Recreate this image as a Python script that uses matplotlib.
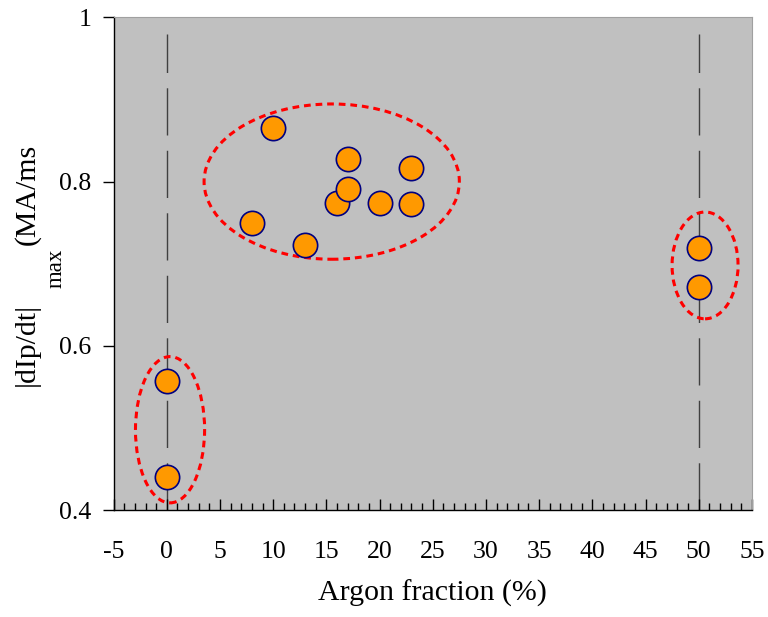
import matplotlib
matplotlib.use("Agg")
import matplotlib.pyplot as plt
from matplotlib.patches import Ellipse
from matplotlib.ticker import MultipleLocator

plt.rcParams['font.family'] = ['Liberation Serif', 'DejaVu Serif']
plt.rcParams['axes.unicode_minus'] = False

# Data
argon = [0, 0, 8, 10, 13, 16, 17, 17, 20, 23, 23, 50, 50]
dipdt = [0.557, 0.440, 0.750, 0.865, 0.723, 0.774, 0.791, 0.827, 0.774, 0.817, 0.773, 0.719, 0.672]

# Ellipses: (center x, center y, width, height)
groups_cx = [0.3, 15.5, 50.6]
groups_cy = [0.498, 0.800, 0.698]
groups_w = [6.5, 24.0, 6.2]
groups_h = [0.178, 0.189, 0.130]

vlines_x = [0, 50]

W, H = 768, 617
fig = plt.figure(figsize=(W / 100, H / 100), dpi=100)
ax = fig.add_axes([0.148, 0.173, 0.831, 0.799])
ax.set_facecolor('#C0C0C0')

for xv in vlines_x:
    ax.plot([xv, xv], [0.4, 0.98], color='#404040', lw=1.0,
            dashes=(34, 11), zorder=1)

for cx, cy, w, h in zip(groups_cx, groups_cy, groups_w, groups_h):
    ax.add_patch(Ellipse((cx, cy), w, h, fill=False, edgecolor='#FF0000',
                         lw=2.2, linestyle=(0, (2.2, 1.6)), zorder=3))

ax.plot(argon, dipdt, linestyle='none', marker='o', markersize=17.5,
        markerfacecolor='#FF9900', markeredgecolor='#000080',
        markeredgewidth=1.2, zorder=4)

ax.set_xlim(-5, 55)
ax.set_ylim(0.4, 1.0)
ax.xaxis.set_major_locator(MultipleLocator(5))
ax.xaxis.set_minor_locator(MultipleLocator(1))
ax.set_yticks([0.4, 0.6, 0.8, 1.0])
ax.set_yticklabels(['0.4', '0.6', '0.8', '1'])

ax.tick_params(axis='x', which='major', direction='in', length=8, width=1,
               labelsize=18.5, pad=22)
ax.tick_params(axis='x', which='minor', direction='in', length=5, width=1)
ax.tick_params(axis='y', which='major', direction='out', length=8, width=1,
               labelsize=18.5, pad=8)

for s in ['left', 'bottom']:
    ax.spines[s].set_color('black')
    ax.spines[s].set_linewidth(1.0)
for s in ['top', 'right']:
    ax.spines[s].set_color('#A0A0A0')
    ax.spines[s].set_linewidth(0.8)

ax.set_xlabel('Argon fraction (%)', fontsize=21.5, labelpad=12)

# Y label composed of main text, subscript and unit
fig.text(27 / W, 1 - 386 / H, '|dIp/dt|', rotation=90, fontsize=21.5,
         ha='center', va='bottom')
fig.text(56 / W, 1 - 288 / H, 'max', rotation=90, fontsize=16.5,
         ha='center', va='bottom')
fig.text(27 / W, 1 - 245 / H, '(MA/ms', rotation=90, fontsize=21.5,
         ha='center', va='bottom')

fig.savefig('out.png', dpi=100)
